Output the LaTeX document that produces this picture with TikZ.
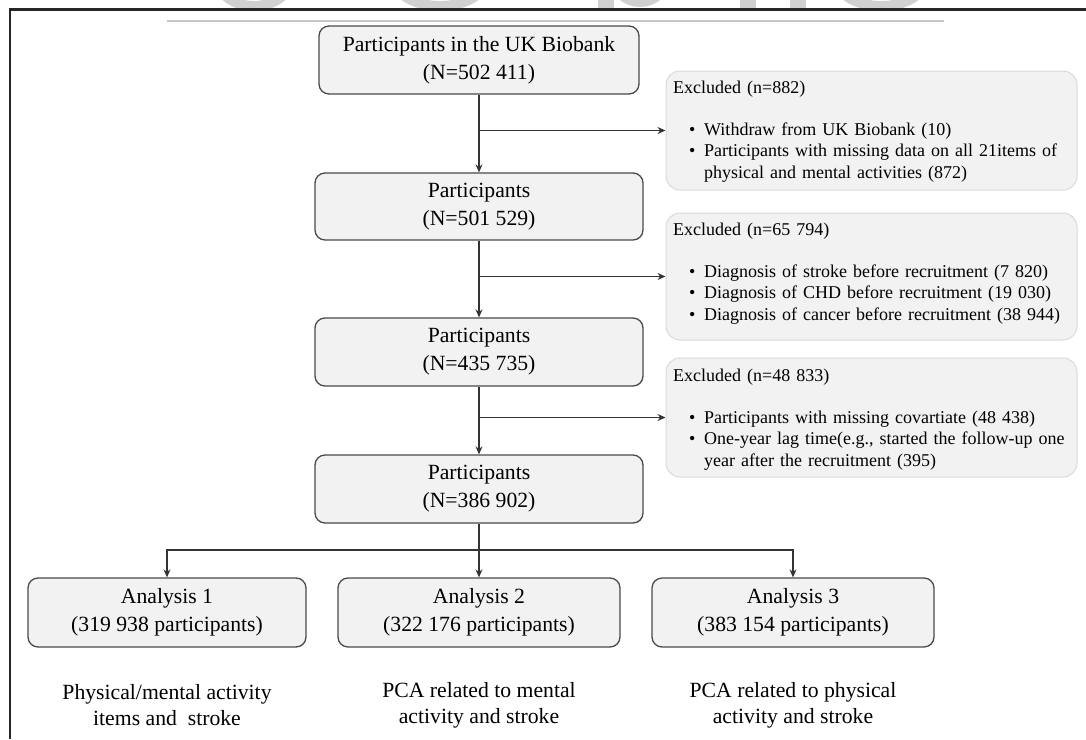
\documentclass[tikz,border=0pt]{standalone}
\usepackage{fontspec}
\setmainfont{Liberation Serif}
\usetikzlibrary{arrows.meta}
\definecolor{boxfill}{HTML}{F2F2F2}
\definecolor{boxline}{HTML}{4A4A4A}
\definecolor{exline}{HTML}{DADADA}
\definecolor{arrowc}{HTML}{333333}
\definecolor{wm}{HTML}{D0D0D0}
\newcommand{\bul}[1]{\hspace*{16pt}\makebox[15pt][l]{\textbullet}#1}
\newcommand{\cont}[1]{\hspace*{31pt}#1}
\begin{document}
\begin{tikzpicture}[x=1pt,y=-1pt,
  mainbox/.style={draw=boxline, line width=1.3pt, fill=boxfill, rounded corners=10pt, align=center,
    font=\fontsize{21.7}{28}\selectfont, inner sep=0pt, execute at begin node={\rule{0pt}{22pt}}},
  exbox/.style={draw=exline, line width=1pt, fill=boxfill, rounded corners=14pt, inner sep=0pt,
    minimum width=411pt},
  extext/.style={font=\fontsize{18}{21.5}\selectfont, align=left, text width=400pt, inner sep=0pt,
    anchor=base west},
  bottomtext/.style={font=\fontsize{21.7}{26}\selectfont, align=center, inner sep=0pt},
  arr/.style={draw=arrowc, line width=1.1pt, -{Stealth[length=8pt,width=7pt]}},
  conn/.style={draw=arrowc, line width=1.1pt}]
\fill[white] (0,0) rectangle (1086,739);
\useasboundingbox (0,0) rectangle (1086,739);
% watermark remnants
\begin{scope}
  \clip (0,0) rectangle (1086,8);
  \draw[wm, line width=10pt] (254,-20) ellipse (36pt and 26pt);
  \draw[wm, line width=10pt] (440,-20) ellipse (45pt and 26pt);
  \fill[wm] (598,0) rectangle (614,8);
  \draw[wm, line width=10pt] (640,-22) ellipse (26pt and 24pt);
  \fill[wm] (740,0) rectangle (756,8);
  \fill[wm] (790,0) rectangle (806,8);
  \draw[wm, line width=10pt] (881,-20) ellipse (44pt and 26pt);
\end{scope}
% frame
\draw[line width=2.5pt, black!85] (10,739) -- (10,9.5) -- (1086,9.5);
\draw[line width=1.2pt, black!22] (167,21) -- (944,21);
% main column
\node[mainbox, minimum width=320pt, minimum height=68pt] (b1) at (479,60) {Participants in the UK Biobank\\(N=502 411)};
\node[mainbox, minimum width=328pt, minimum height=67pt] (b2) at (479,206.5) {Participants\\(N=501 529)};
\node[mainbox, minimum width=328pt, minimum height=68pt] (b3) at (479,352) {Participants\\(N=435 735)};
\node[mainbox, minimum width=328pt, minimum height=68pt] (b4) at (479,489) {Participants\\(N=386 902)};
% excluded boxes
\node[exbox, minimum height=119pt] (exA) at (871.5,130.5) {};
\node[extext] (exAt) at (673,93) {Excluded (n=882)\\[20.5pt]
  \bul{Withdraw from UK Biobank (10)}\\
  \bul{Participants with missing data on all 21items of}\\
  \cont{physical and mental activities (872)}};
\node[exbox, minimum height=127pt] (exB) at (871.5,276.5) {};
\node[extext] (exBt) at (673,235) {Excluded (n=65 794)\\[20.5pt]
  \bul{Diagnosis of stroke before recruitment (7 820)}\\
  \bul{Diagnosis of CHD before recruitment (19 030)}\\
  \bul{Diagnosis of cancer before recruitment (38 944)}};
\node[exbox, minimum height=119pt] (exC) at (871.5,417.5) {};
\node[extext] (exCt) at (673,381) {Excluded (n=48 833)\\[20.5pt]
  \bul{Participants with missing covartiate (48 438)}\\
  \bul{One-year lag time(e.g., started the follow-up one}\\
  \cont{year after the recruitment (395)}};
% analysis boxes
\node[mainbox, minimum width=278pt, minimum height=69pt] (a1) at (167,612.5) {Analysis 1\\(319 938 participants)};
\node[mainbox, minimum width=282pt, minimum height=69pt] (a2) at (479,612.5) {Analysis 2\\(322 176 participants)};
\node[mainbox, minimum width=282pt, minimum height=69pt] (a3) at (793,612.5) {Analysis 3\\(383 154 participants)};
% descriptions
\node[bottomtext] (d1) at (167,705) {Physical/mental activity\\items and\ \ stroke};
\node[bottomtext] (d2) at (479,705) {PCA related to mental\\activity and stroke};
\node[bottomtext] (d3) at (793,705) {PCA related to physical\\activity and stroke};
% connectors
\draw[arr] (b1.south) -- (b2.north);
\draw[arr] (b1.south |- exA.west) -- (exA.west);
\draw[arr] (b2.south) -- (b3.north);
\draw[arr] (b2.south |- exB.west) -- (exB.west);
\draw[arr] (b3.south) -- (b4.north);
\draw[arr] (b3.south |- exC.west) -- (exC.west);
\coordinate (split) at (479,550);
\draw[conn] (b4.south) -- (split);
\draw[arr] (split) -- (a2.north);
\draw[arr] (split) -| (a1.north);
\draw[arr] (split) -| (a3.north);
\end{tikzpicture}
\end{document}
